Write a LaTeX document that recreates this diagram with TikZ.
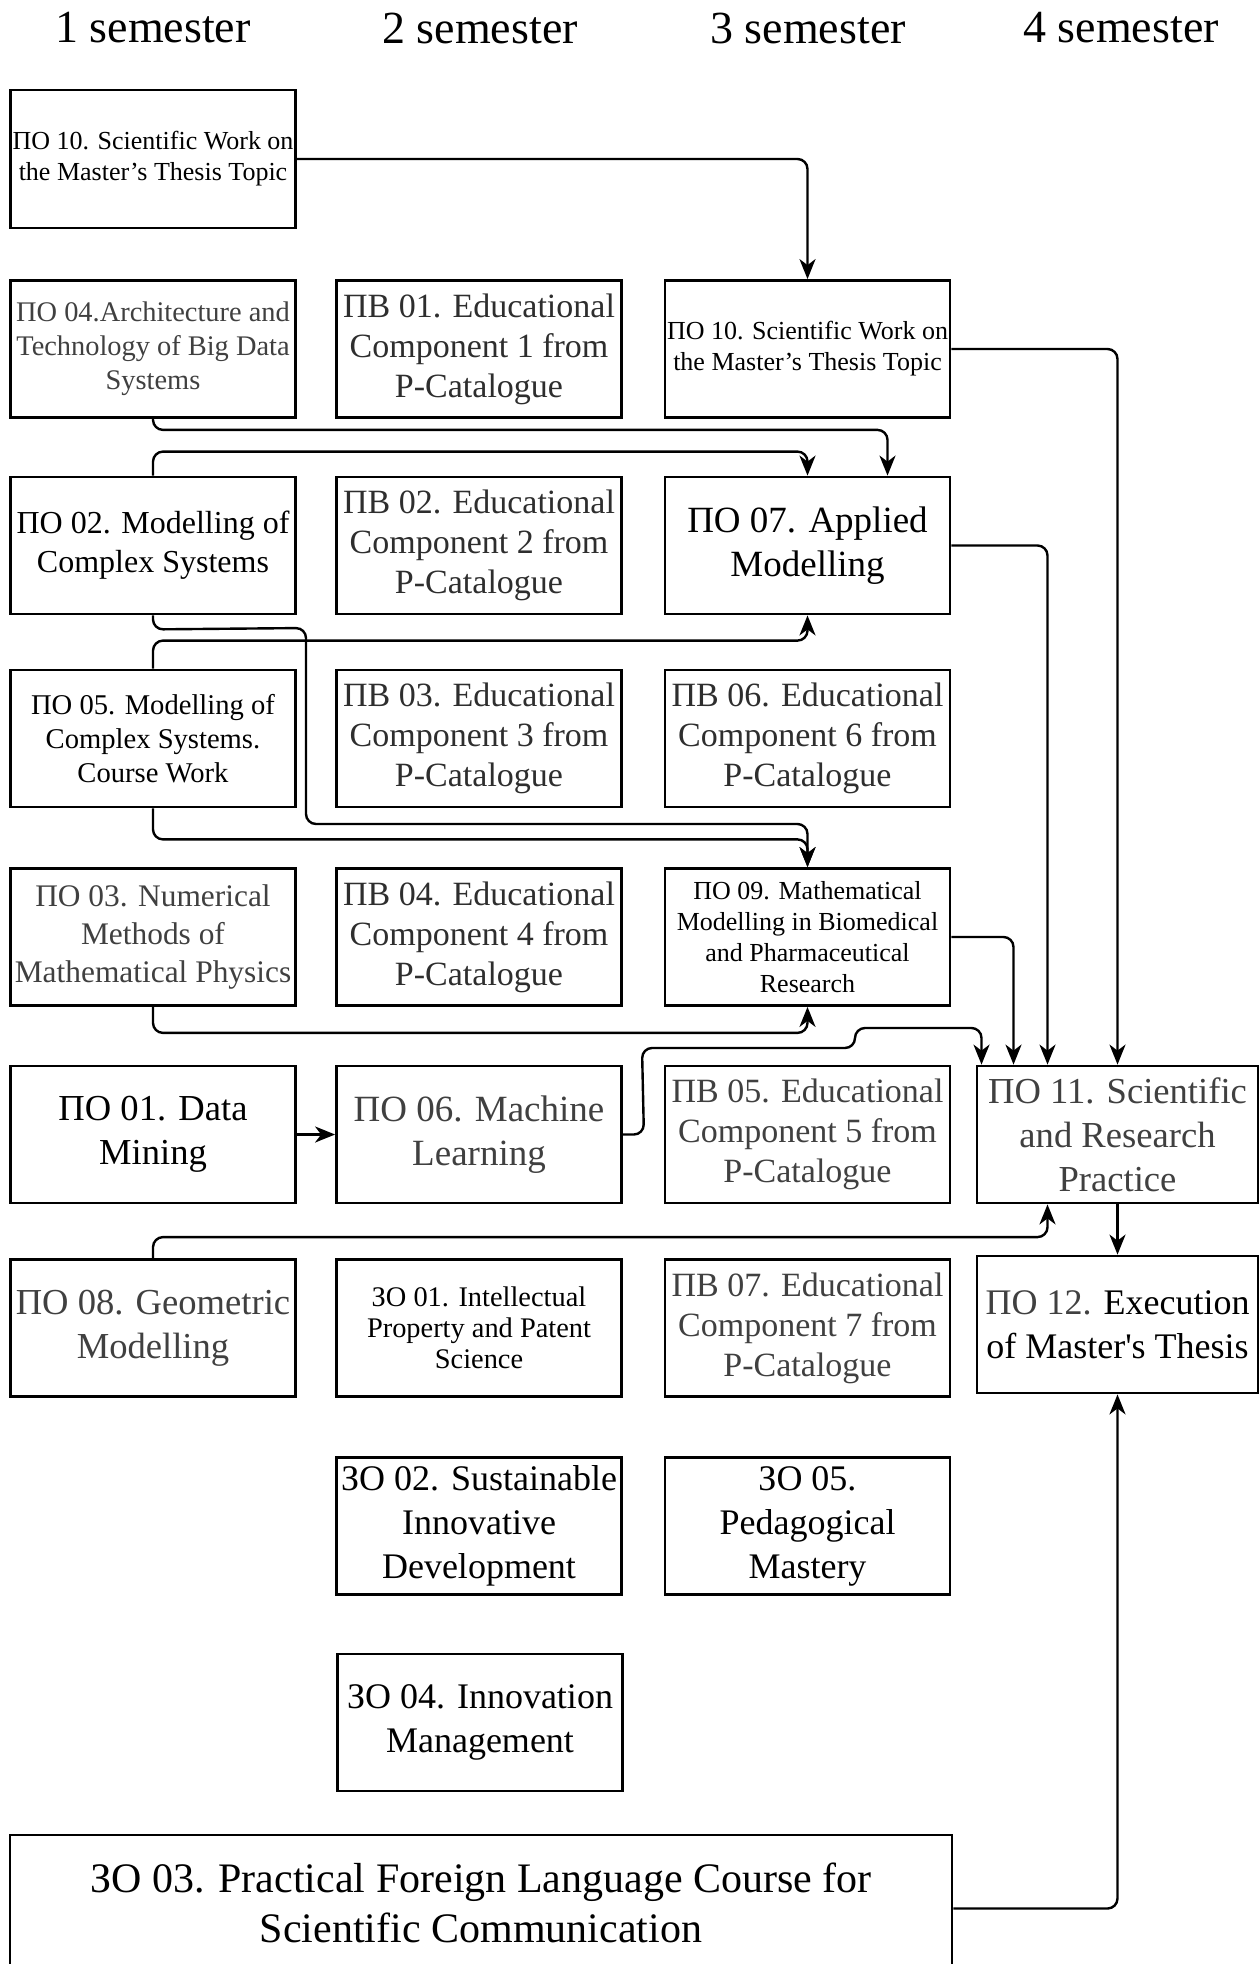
\documentclass[tikz,border=0pt]{standalone}
\usepackage{fontspec}
\setmainfont{Liberation Serif}
\usetikzlibrary{arrows.meta}
\newcommand\fs[2]{\fontsize{#1}{#2}\selectfont}
\definecolor{txtgray}{HTML}{404040}
\definecolor{pvgray}{HTML}{2E2E2E}
\begin{document}
\begin{tikzpicture}[x=0.5pt,y=-0.5pt,
  box/.style={draw, line width=1.4pt, rectangle, inner sep=0pt, align=center,
    minimum width=142.5pt, minimum height=68.5pt},
  pv/.style={box, font=\fs{17}{20}, text=pvgray},
  gr/.style={text=txtgray},
  arr/.style={draw, line width=1.2pt, rounded corners=5pt, -{Stealth[length=10pt,width=8pt,inset=3pt]}},
  hdr/.style={font=\fs{23}{27}}]
\useasboundingbox (0,0) rectangle (1259,1964);
% headers
\node[hdr] (h1) at (153,28) {1 semester};
\node[hdr] (h2) at (480,28) {2 semester};
\node[hdr] (h3) at (808,28) {3 semester};
\node[hdr] (h4) at (1121,28) {4 semester};
% boxes
\node[box, minimum height=69pt, font=\fs{13}{15.5}] (po10a) at (153,159) {ПО 10. Scientific Work on\\the Master’s Thesis Topic};
\node[box, gr, font=\fs{14.2}{17}] (po04) at (153,349) {ПО 04.Architecture and\\Technology of Big Data\\Systems};
\node[pv] (pv01) at (479,349) {ПВ 01. Educational\\Component 1 from\\P-Catalogue};
\node[box, font=\fs{13}{15.5}] (po10b) at (807.5,349) {ПО 10. Scientific Work on\\the Master’s Thesis Topic};
\node[box, font=\fs{16}{19.5}] (po02) at (153,545.5) {ПО 02. Modelling of\\Complex Systems};
\node[pv] (pv02) at (479,545.5) {ПВ 02. Educational\\Component 2 from\\P-Catalogue};
\node[box, font=\fs{18.5}{22}] (po07) at (807.5,545.5) {ПО 07. Applied\\Modelling};
\node[box, font=\fs{14.3}{17}] (po05) at (153,738.5) {ПО 05. Modelling of\\Complex Systems.\\Course Work};
\node[pv] (pv03) at (479,738.5) {ПВ 03. Educational\\Component 3 from\\P-Catalogue};
\node[pv] (pv06) at (807.5,738.5) {ПВ 06. Educational\\Component 6 from\\P-Catalogue};
\node[box, gr, font=\fs{15.7}{19}] (po03) at (153,937) {ПО 03. Numerical\\Methods of\\Mathematical Physics};
\node[pv] (pv04) at (479,937) {ПВ 04. Educational\\Component 4 from\\P-Catalogue};
\node[box, font=\fs{13}{15.5}] (po09) at (807.5,937) {ПО 09. Mathematical\\Modelling in Biomedical\\and Pharmaceutical\\Research};
\node[box, font=\fs{18.3}{22}] (po01) at (153,1134.5) {ПО 01. Data\\Mining};
\node[box, gr, font=\fs{18.5}{22}] (po06) at (479,1134.5) {ПО 06. Machine\\Learning};
\node[pv, gr] (pv05) at (807.5,1134.5) {ПВ 05. Educational\\Component 5 from\\P-Catalogue};
\node[box, gr, minimum width=140.5pt, font=\fs{18.3}{22}] (po11) at (1117.5,1134.5) {ПО 11. Scientific\\and Research\\Practice};
\node[box, gr, font=\fs{18.3}{22}] (po08) at (153,1328) {ПО 08. Geometric\\Modelling};
\node[box, font=\fs{14.2}{15.5}] (zo01) at (479,1328) {ЗО 01. Intellectual\\Property and Patent\\Science};
\node[pv, gr] (pv07) at (807.5,1328) {ПВ 07. Educational\\Component 7 from\\P-Catalogue};
\node[box, minimum width=140.5pt, font=\fs{18}{22}] (po12) at (1117.5,1324.5) {\textcolor{txtgray}{ПО 12.} Execution\\of Master\textquotesingle s Thesis};
\node[box, font=\fs{18}{22}] (zo02) at (479,1526) {ЗО 02. Sustainable\\Innovative\\Development};
\node[box, font=\fs{18}{22}] (zo05) at (807.5,1526) {ЗО 05.\\Pedagogical\\Mastery};
\node[box, font=\fs{18}{22}] (zo04) at (480,1722.5) {ЗО 04. Innovation\\Management};
\node[box, minimum width=471pt, minimum height=67.5pt, font=\fs{21}{25}] (zo03) at (481,1902.5) {ЗО 03. Practical Foreign Language Course for\\Scientific Communication};
% connectors
\draw[arr] (po10a.east) -| (po10b.north);
\draw[arr] (po10b.east) -| (po11.north);
\draw[arr] (po04.south) -- ++(0,11) -| ([xshift=40pt]po07.north);
\draw[arr] (po02.north) -- ++(0,-24) -| (po07.north);
\draw[arr] (po05.north) -- ++(0,-28) -| (po07.south);
\draw[arr] (po02.south) -- ++(0,14) -- (306,628) -- (306,824) -| (po09.north);
\draw[arr] (po05.south) -- ++(0,31) -| (po09.north);
\draw[arr] (po03.south) -- ++(0,26) -| (po09.south);
\draw[arr] (po09.east) -| ([xshift=-52pt]po11.north);
\draw[arr] (po07.east) -| ([xshift=-35pt]po11.north);
\draw[arr] (po06.east) -- ++(21,0) -- (642,1048) -- (855,1048) -- (855,1028) -| ([xshift=-68pt]po11.north);
\draw[arr] (po01) -- (po06);
\draw[arr] (po08.north) -- ++(0,-21) -| ([xshift=-35pt]po11.south);
\draw[arr] (po11.south) -- (po12.north);
\draw[arr] ([yshift=-3pt]zo03.east) -| (po12.south);
\end{tikzpicture}
\end{document}
